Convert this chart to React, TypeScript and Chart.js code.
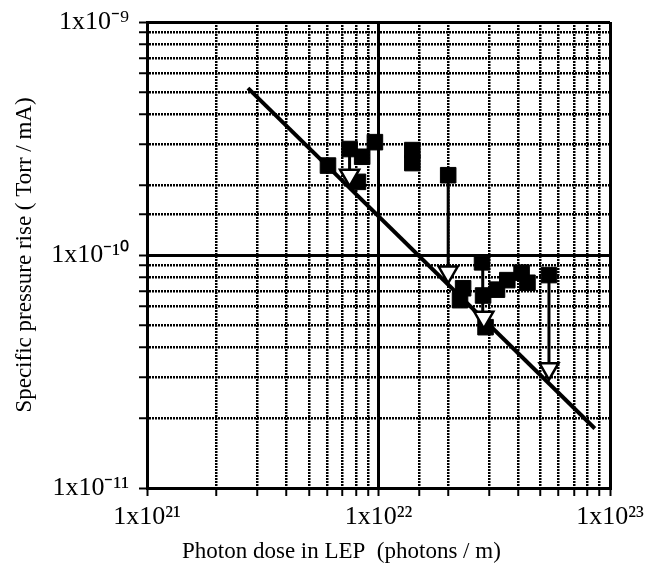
import React, { useEffect, useRef } from 'react';
import { Chart, registerables } from 'chart.js';

Chart.register(...registerables);

// Axis ranges
const X_MIN = 1e21;
const X_MAX = 1e23;
const Y_MIN = 1e-11;
const Y_MAX = 1e-9;

// Tick labels for the decades
const xDecades = [21, 22, 23];
const xTickLabels = ['1x10\u00B2\u00B9', '1x10\u00B2\u00B2', '1x10\u00B2\u00B3'];
const yDecades = [-11, -10, -9];
const yTickLabels = ['1x10\u207B\u00B9\u00B9', '1x10\u207B\u00B9\u2070', '1x10\u207B\u2079'];

const X_TITLE = 'Photon dose in LEP  (photons / m)';
const Y_TITLE = 'Specific pressure rise ( Torr / mA)';

// Measured specific pressure rise (filled squares)
const squareX = [6.05e21, 7.5e21, 8.5e21, 9.65e21, 8.15e21, 1.4e22, 1.4e22, 2.0e22, 2.8e22, 2.32e22, 2.25e22, 2.83e22, 3.25e22, 3.6e22, 4.15e22, 4.4e22, 5.45e22, 2.9e22];
const squareY = [2.42e-10, 2.85e-10, 2.64e-10, 3.05e-10, 2.06e-10, 2.82e-10, 2.48e-10, 2.2e-10, 9.3e-11, 7.2e-11, 6.4e-11, 6.7e-11, 7.1e-11, 7.8e-11, 8.4e-11, 7.6e-11, 8.2e-11, 4.9e-11];

// Values after conditioning (open down triangles)
const triangleX = [7.5e21, 2.0e22, 2.85e22, 5.45e22];
const triangleY = [2.2e-10, 8.45e-11, 5.4e-11, 3.25e-11];

// Arrows from squares down to triangles
const arrowX = [7.5e21, 2.0e22, 2.82e22, 5.45e22];
const arrowFromY = [2.85e-10, 2.2e-10, 9.3e-11, 8.2e-11];
const arrowToY = [2.2e-10, 8.45e-11, 5.4e-11, 3.25e-11];

// Fitted power-law line
const fitX = [2.73e21, 8.6e22];
const fitY = [5.2e-10, 1.8e-11];

const FONT = 'Liberation Serif, Times New Roman, serif';

function isDecade(v: number): boolean {
  const e = Math.log10(v);
  return Math.abs(e - Math.round(e)) < 1e-6;
}

// Draws the x-axis title left of centre, as in the original figure
const xTitlePlugin = {
  id: 'xTitleOffset',
  afterDraw(chart: any) {
    const ctx = chart.ctx;
    ctx.save();
    ctx.fillStyle = '#000';
    ctx.font = `23px ${FONT}`;
    ctx.textAlign = 'left';
    ctx.textBaseline = 'middle';
    ctx.fillText(X_TITLE, 182, 552);
    ctx.restore();
  },
};

export default function App() {
  const canvasRef = useRef<HTMLCanvasElement | null>(null);

  useEffect(() => {
    if (!canvasRef.current) return;

    const arrowSets = arrowX.map((x, i) => ({
      type: 'line' as const,
      data: [
        { x, y: arrowFromY[i] },
        { x, y: arrowToY[i] },
      ],
      borderColor: '#000',
      borderWidth: 3,
      pointRadius: 0,
      showLine: true,
      order: 3,
    }));

    const gridWidth = (ctx: any) => (ctx.tick && isDecade(ctx.tick.value) ? 3 : 2.5);
    const gridDash = (ctx: any) => (ctx.tick && !isDecade(ctx.tick.value) ? [2, 1] : []);

    const chart = new Chart(canvasRef.current, {
      type: 'scatter',
      data: {
        datasets: [
          {
            data: triangleX.map((x, i) => ({ x, y: triangleY[i] })),
            pointStyle: 'triangle',
            rotation: 180,
            pointRadius: 11,
            backgroundColor: '#fff',
            borderColor: '#000',
            borderWidth: 2.5,
            order: 0,
          },
          {
            data: squareX.map((x, i) => ({ x, y: squareY[i] })),
            pointStyle: 'rect',
            pointRadius: 11,
            backgroundColor: '#000',
            borderColor: '#000',
            borderWidth: 1,
            order: 1,
          },
          ...arrowSets,
          {
            type: 'line',
            data: fitX.map((x, i) => ({ x, y: fitY[i] })),
            borderColor: '#000',
            borderWidth: 4,
            pointRadius: 0,
            order: 4,
          },
        ] as any,
      },
      options: {
        animation: false,
        responsive: true,
        maintainAspectRatio: false,
        layout: { padding: { left: 0, top: 22, right: 35, bottom: 0 } },
        plugins: {
          legend: { display: false },
          tooltip: { enabled: false },
        },
        scales: {
          x: {
            type: 'logarithmic',
            min: X_MIN,
            max: X_MAX,
            afterFit: (scale: any) => {
              scale.height = 79;
              scale.paddingLeft = 0;
              scale.paddingRight = 0;
            },
            ticks: {
              autoSkip: false,
              maxRotation: 0,
              color: '#000',
              padding: 6,
              font: { family: FONT, size: 26 },
              callback: (v: any) => {
                const val = Number(v);
                if (!isDecade(val)) return '';
                const idx = xDecades.indexOf(Math.round(Math.log10(val)));
                return idx >= 0 ? xTickLabels[idx] : '';
              },
            },
            grid: {
              color: '#000',
              lineWidth: gridWidth,
              tickColor: '#000',
              tickLength: 8,
              tickWidth: 2,
            },
            border: { display: true, color: '#000', width: 3, dash: gridDash },
            title: { display: false, text: X_TITLE },
          },
          y: {
            type: 'logarithmic',
            min: Y_MIN,
            max: Y_MAX,
            afterFit: (scale: any) => {
              scale.width = 147;
              scale.paddingTop = 0;
              scale.paddingBottom = 0;
            },
            ticks: {
              autoSkip: false,
              color: '#000',
              padding: 10,
              font: { family: FONT, size: 26 },
              callback: (v: any) => {
                const val = Number(v);
                if (!isDecade(val)) return '';
                const idx = yDecades.indexOf(Math.round(Math.log10(val)));
                return idx >= 0 ? yTickLabels[idx] : '';
              },
            },
            grid: {
              color: '#000',
              lineWidth: gridWidth,
              tickColor: '#000',
              tickLength: 8,
              tickWidth: 2,
            },
            border: { display: true, color: '#000', width: 3, dash: gridDash },
            title: {
              display: true,
              text: Y_TITLE,
              color: '#000',
              font: { family: FONT, size: 23 },
              padding: { top: 11, bottom: 0 },
            },
          },
        },
      } as any,
      plugins: [xTitlePlugin],
    });

    return () => chart.destroy();
  }, []);

  return (
    <div style={{ position: 'fixed', left: 0, top: 0, width: 645, height: 567, background: '#fff' }}>
      <canvas ref={canvasRef} />
    </div>
  );
}
